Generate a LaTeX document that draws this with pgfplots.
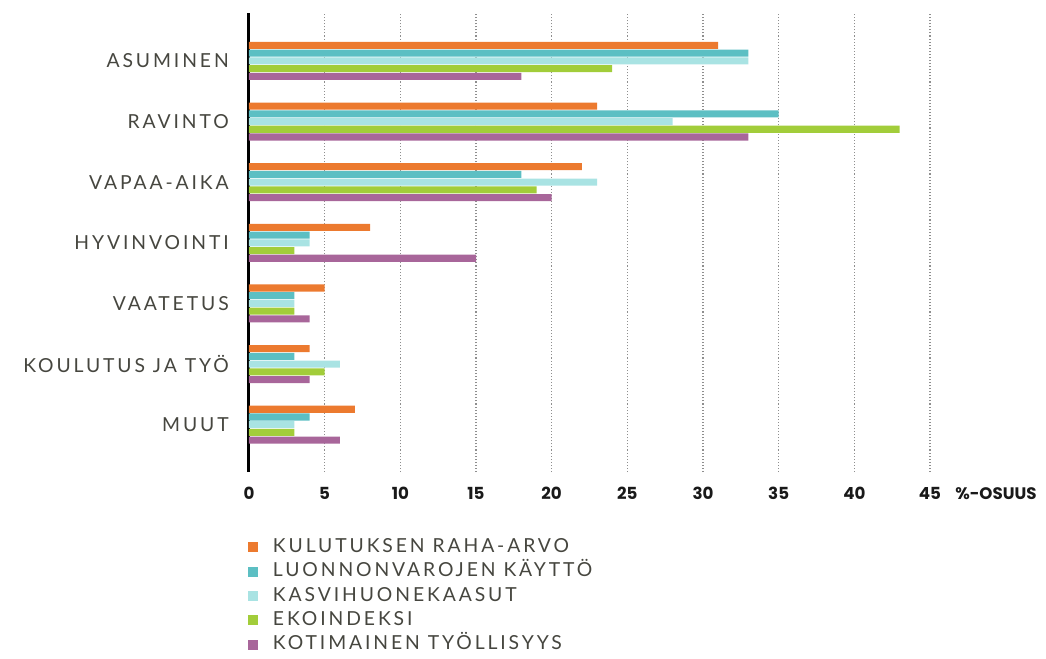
\documentclass[border=0pt]{standalone}
\usepackage{fontspec}
\setmainfont{Lato}[LetterSpace=15]
\newfontfamily\numfont{Poppins}
\usepackage{pgfplots}
\pgfplotsset{compat=1.18}
\usepackage{pgfplotstable}

\definecolor{cOrange}{HTML}{EC7A2F}
\definecolor{cTeal}{HTML}{5CBFC3}
\definecolor{cLight}{HTML}{A9E3E3}
\definecolor{cGreen}{HTML}{A2CD3A}
\definecolor{cPurple}{HTML}{A8669A}
\definecolor{cText}{HTML}{46463F}
\definecolor{cGrid}{HTML}{8E8E8E}

% shares (%) per consumption category; idx 6 = top row
\pgfplotstableread{
idx raha luonto kasvi eko tyo
6   31   33     33    24  18
5   23   35     28    43  33
4   22   18     23    19  20
3    8    4      4     3  15
2    5    3      3     3   4
1    4    3      6     5   4
0    7    4      3     3   6
}\shares

\begin{document}
\begin{tikzpicture}
\path[use as bounding box] (0,0) rectangle (784.5pt,493.5pt);
\begin{axis}[
  name=ax,
  at={(186.75pt,139.5pt)}, anchor=south west,
  scale only axis, width=510.75pt, height=344.25pt,
  xbar, bar width=5.3pt,
  xmin=0, xmax=45,
  ymin=-0.78, ymax=6.79,
  axis lines*=left,
  x axis line style={draw=none},
  y axis line style={black, line width=2.25pt},
  major tick length=0pt,
  xtick={0,5,...,45},
  xticklabels={0,5,10,15,20,25,30,35,40,45},
  xticklabel style={anchor=north, inner sep=0pt, yshift=-11.25pt,
    font=\numfont\bfseries\fontsize{12.5}{14}\selectfont, text=black!90},
  ytick={0,...,6},
  yticklabels={MUUT, KOULUTUS JA TYÖ, VAATETUS, HYVINVOINTI, VAPAA-AIKA, RAVINTO, ASUMINEN},
  yticklabel style={anchor=east, inner sep=0pt, xshift=-15pt,
    font=\fontsize{14.5}{16}\selectfont, text=cText},
  xmajorgrids=true,
  major grid style={cGrid, line width=1.05pt, dash pattern=on 0.8pt off 1.5pt},
  legend style={at={(axis description cs:0,0)}, anchor=north west,
    xshift=-0.75pt, yshift=-50pt,
    draw=none, fill=none, inner sep=0pt, outer sep=0pt,
    row sep=4.3pt, column sep=11.25pt,
    font=\fontsize{14.5}{16}\selectfont, text=cText,
    nodes={inner sep=0pt, text height=10.5pt, text depth=3.4pt}},
  legend cell align=left,
  legend image code/.code={\fill[#1] (0pt,-3.4pt) rectangle (7.5pt,4.1pt);},
  every axis plot/.append style={draw=none},
]
\addplot[fill=cOrange, bar shift=11.6pt] table[x=raha, y=idx] {\shares};
\addplot[fill=cTeal,   bar shift=5.8pt] table[x=luonto, y=idx] {\shares};
\addplot[fill=cLight,  bar shift=0pt]     table[x=kasvi, y=idx] {\shares};
\addplot[fill=cGreen,  bar shift=-5.8pt] table[x=eko, y=idx] {\shares};
\addplot[fill=cPurple, bar shift=-11.6pt] table[x=tyo, y=idx] {\shares};
\legend{KULUTUKSEN RAHA-ARVO, LUONNONVAROJEN KÄYTTÖ, KASVIHUONEKAASUT, EKOINDEKSI, KOTIMAINEN TYÖLLISYYS}
\end{axis}
\node[anchor=north west, inner sep=0pt, font=\numfont\bfseries\fontsize{12.5}{14}\selectfont, text=black!90]
  at ([xshift=18.75pt, yshift=-11.25pt]ax.south east) {\%-OSUUS};
\end{tikzpicture}
\end{document}
